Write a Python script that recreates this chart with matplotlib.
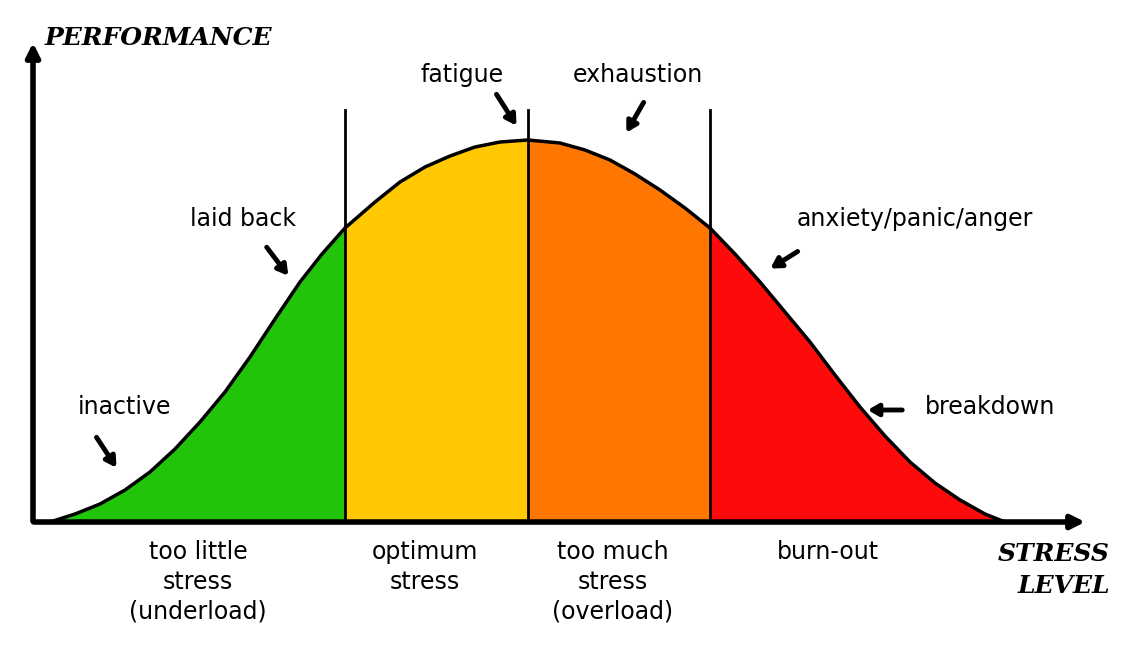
import numpy as np
from matplotlib import pyplot as plt

# stress level (px along the axis) and performance (px above baseline)
stress = [50, 75, 100, 125, 150, 175, 200, 225, 250, 275, 300, 322, 345, 375, 400, 425, 450, 475, 500, 528,
          560, 585, 610, 635, 660, 685, 710, 735, 760, 785, 810, 835, 860, 885, 910, 935, 960, 985, 1005]
performance = [0, 8, 18, 32, 50, 73, 100, 130, 165, 203, 240, 268, 294, 320, 340, 355, 366, 375, 380, 382,
               379, 372, 362, 348, 332, 314, 294, 268, 240, 210, 180, 147, 115, 86, 60, 39, 22, 8, 0]
zones = [50, 345, 528, 710, 1005]
zone_colors = ['#22c40a', '#ffc800', '#ff7700', '#ff0a0a']
zone_labels = ['too little\nstress\n(underload)', 'optimum\nstress', 'too much\nstress\n(overload)', 'burn-out']
zone_label_x = [198, 425, 613, 828]

# curve annotations: text, text position, arrow start, arrow tip
notes = [('inactive', (125, 407), (95, 435), (118, 470)),
         ('laid back', (243, 219), (265, 245), (290, 278)),
         ('fatigue', (462, 75), (495, 92), (518, 128)),
         ('exhaustion', (638, 75), (645, 100), (625, 135)),
         ('anxiety/panic/anger', (915, 219), (800, 250), (768, 270)),
         ('breakdown', (990, 407), (905, 410), (865, 410))]

base = 522
x = np.array(stress)
y = base - np.array(performance)

fig = plt.figure(figsize=(11.22, 6.64), dpi=100)
ax = fig.add_axes([0, 0, 1, 1])
ax.set_xlim(0, 1122)
ax.set_ylim(664, 0)
ax.axis('off')

for i, c in enumerate(zone_colors):
    m = (x >= zones[i]) & (x <= zones[i + 1])
    ax.fill_between(x[m], y[m], base, color=c, lw=0)
ax.plot(x, y, color='black', lw=2.5, solid_joinstyle='round')
for zx in zones[1:-1]:
    ax.plot([zx, zx], [base, 110], color='black', lw=2)

# axes arrows
ax.annotate('', xy=(33, 40), xytext=(33, base + 2),
            arrowprops=dict(arrowstyle='-|>,head_width=0.4,head_length=0.8', color='black', lw=4))
ax.annotate('', xy=(1088, base), xytext=(31, base),
            arrowprops=dict(arrowstyle='-|>,head_width=0.4,head_length=0.8', color='black', lw=4))

serif = dict(family='DejaVu Serif', style='italic', weight='bold', fontsize=18)
ax.text(45, 38, 'PERFORMANCE', ha='left', va='center', **serif)
ax.text(1110, 570, 'STRESS\nLEVEL', ha='right', va='center', linespacing=1.4, **serif)

for lab, lx in zip(zone_labels, zone_label_x):
    ax.text(lx, 540, lab, ha='center', va='top', fontsize=17, linespacing=1.3)

for txt, tp, a0, a1 in notes:
    ax.text(tp[0], tp[1], txt, ha='center', va='center', fontsize=17)
    ax.annotate('', xy=a1, xytext=a0,
                arrowprops=dict(arrowstyle='-|>,head_width=0.35,head_length=0.6', color='black', lw=3.5))

fig.savefig('out.png', dpi=100)
